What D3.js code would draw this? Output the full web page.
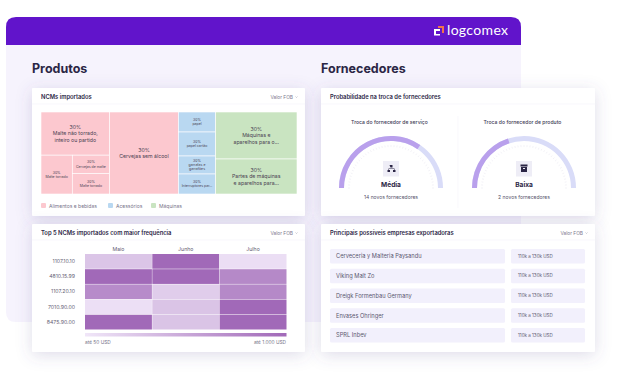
<!DOCTYPE html>
<html>
<head>
<meta charset="utf-8">
<script src="https://cdnjs.cloudflare.com/ajax/libs/d3/7.8.5/d3.min.js"></script>
<style>
html, body { margin: 0; padding: 0; background: #fff; }
svg { display: block; font-family: Inter, "Noto Sans", sans-serif; }
</style>
</head>
<body>
<div id="chart"></div>
<script>
// treemap
var groupNames = ["Alimentos e bebidas", "Acessórios", "Máquinas"];
var groupColors = ["#fcc8cf", "#b9d8f1", "#c9e4c1"];
var maltLabels = [["30%", "Malte não torrado,", "inteiro ou partido"], ["30%", "Malte torrado"], ["30%", "Cervejas de malte"], ["30%", "Malte torrado"]];
var maltValues = [2945, 1209, 685, 758];
var beerLabel = ["30%", "Cervejas sem álcool"];
var beerValue = 5617;
var accLabels = [["30%", "papel"], ["30%", "papel cartão"], ["30%", "garrafas e", "garrafões"], ["30%", "Interruptores par..."]];
var accValues = [740, 888, 666, 740];
var machLabels = [["30%", "Máquinas e", "aparelhos para o..."], ["30%", "Partes de máquinas", "e aparelhos para..."]];
var machValues = [3807, 2835];

// heatmap
var months = ["Maio", "Junho", "Julho"];
var ncms = ["1107.10.10", "4810.15.99", "1107.20.10", "7010.90.00", "8475.90.00"];
var heatValues = [
  [300, 1000, 110],
  [1000, 1000, 760],
  [740, 240, 760],
  [100, 310, 1000],
  [1000, 310, 1000]
];

// gauges
var gaugeTitles = ["Troca do fornecedor de serviço", "Troca do fornecedor de produto"];
var gaugeShares = [0.69, 0.40];
var gaugeLevels = ["Média", "Baixa"];
var gaugeNotes = ["14 novos fornecedores", "2 novos fornecedores"];

// exporters
var exporters = ["Cerveceria y Malteria Paysandu", "Viking Malt Zo", "Dreigk Formenbau Germany", "Envases Ohringer", "SPRL Inbev"];
var exporterRanges = ["110k a 130k USD", "110k a 130k USD", "110k a 130k USD", "110k a 130k USD", "110k a 130k USD"];

var ink = "#2b2645", grey = "#77748a";

var svg = d3.select("#chart").append("svg")
  .attr("width", 621).attr("height", 382);

var defs = svg.append("defs");
var shadow = defs.append("filter").attr("id", "shadow")
  .attr("x", "-20%").attr("y", "-30%").attr("width", "140%").attr("height", "170%");
shadow.append("feDropShadow")
  .attr("dx", 0).attr("dy", 3).attr("stdDeviation", 8)
  .attr("flood-color", "#5a5090").attr("flood-opacity", 0.2);

// app window
svg.append("path")
  .attr("d", "M6,45 V27 Q6,17 16,17 H511 Q521,17 521,27 V45 Z")
  .attr("fill", "#6114cb");
svg.append("path")
  .attr("d", "M6,45 H521 V312 Q521,322 511,322 H16 Q6,322 6,312 Z")
  .attr("fill", "#f6f3fd");

// logo
var logo = svg.append("g");
logo.append("path").attr("d", "M438,26 h6 v7 h-2 v-5 h-4 Z").attr("fill", "#f0734a");
logo.append("path").attr("d", "M434,29 h6 v2 h-4 v3 h4 v1.500 h-6 Z").attr("fill", "#fff");
logo.append("text").attr("x", 447).attr("y", 34.500)
  .attr("font-size", 14).attr("fill", "#fff").attr("font-family", "Lato")
  .attr("textLength", 61).text("logcomex");

svg.append("text").attr("x", 32).attr("y", 73).attr("font-size", 12.5)
  .attr("font-weight", 700).attr("fill", ink).text("Produtos");
svg.append("text").attr("x", 321).attr("y", 73).attr("font-size", 12.5)
  .attr("font-weight", 700).attr("fill", ink).text("Fornecedores");

function card(x, y, w, h, title, hasSelect) {
  svg.append("rect").attr("x", x).attr("y", y).attr("width", w).attr("height", h)
    .attr("rx", 1).attr("fill", "#fff").attr("filter", "url(#shadow)");
  svg.append("text").attr("x", x + 9).attr("y", y + 10.500)
    .attr("font-size", 5.8).attr("font-weight", 600).attr("fill", ink).text(title);
  svg.append("line").attr("x1", x).attr("x2", x + w).attr("y1", y + 16).attr("y2", y + 16)
    .attr("stroke", "#f5f4fa").attr("stroke-width", 0.7);
  if (hasSelect) {
    svg.append("text").attr("x", x + w - 12).attr("y", y + 10.500).attr("text-anchor", "end")
      .attr("font-size", 4.8).attr("fill", grey).text("Valor FOB");
    svg.append("path")
      .attr("d", "M" + (x + w - 9.500) + "," + (y + 8.500) + " l1,1 l1,-1")
      .attr("fill", "none").attr("stroke", "#9a98aa").attr("stroke-width", 0.5);
  }
}

card(32, 88, 273, 128, "NCMs importados", true);
card(32, 224, 273, 128, "Top 5 NCMs importados com maior frequência", true);
card(321, 88, 274, 128, "Probabilidade na troca de fornecedores", false);
card(321, 224, 274, 128, "Principais possíveis empresas exportadoras", true);

// treemap, slice and dice alternates columns and rows
function leaf(label, value, group) { return {label: label, value: value, group: group}; }
var treeData = {children: [
  {children: [
    leaf(maltLabels[0], maltValues[0], 0),
    {children: [
      leaf(maltLabels[1], maltValues[1], 0),
      {children: [leaf(maltLabels[2], maltValues[2], 0), leaf(maltLabels[3], maltValues[3], 0)]}
    ]}
  ]},
  leaf(beerLabel, beerValue, 0),
  {children: accLabels.map(function(l, i) { return leaf(l, accValues[i], 1); })},
  {children: machLabels.map(function(l, i) { return leaf(l, machValues[i], 2); })}
]};

var root = d3.hierarchy(treeData).sum(function(d) { return d.value || 0; });
d3.treemap().tile(d3.treemapSliceDice).size([256, 82])(root);

var tree = svg.append("g").attr("transform", "translate(41,112)");
var cell = tree.selectAll("g").data(root.leaves()).enter().append("g")
  .attr("transform", function(d) { return "translate(" + d.x0 + "," + d.y0 + ")"; });
cell.append("rect")
  .attr("width", function(d) { return d.x1 - d.x0; })
  .attr("height", function(d) { return d.y1 - d.y0; })
  .attr("fill", function(d) { return groupColors[d.data.group]; })
  .attr("stroke", "#fff").attr("stroke-width", 0.6);
cell.each(function(d) {
  var w = d.x1 - d.x0, h = d.y1 - d.y0;
  var fs = w * h > 2000 ? 5.2 : 3.5;
  var lh = fs * 1.22;
  var lines = d.data.label;
  d3.select(this).selectAll("text").data(lines).enter().append("text")
    .attr("x", w / 2)
    .attr("y", function(_, i) { return h / 2 + (i - (lines.length - 1) / 2) * lh + fs * 0.35; })
    .attr("text-anchor", "middle").attr("font-size", fs).attr("fill", "#4a4252")
    .text(function(t) { return t; });
});

var legendX = [41, 108, 151];
groupNames.forEach(function(name, i) {
  svg.append("rect").attr("x", legendX[i]).attr("y", 203).attr("width", 5).attr("height", 5)
    .attr("rx", 1).attr("fill", groupColors[i]);
  svg.append("text").attr("x", legendX[i] + 8).attr("y", 207.500)
    .attr("font-size", 5).attr("fill", grey).text(name);
});

// heatmap
var x = d3.scaleBand().domain(months).range([85, 286.500]).paddingInner(0.006);
var y = d3.scaleBand().domain(ncms).range([254, 329.500]).paddingInner(0.03);
var color = d3.scaleLinear().domain([50, 1000]).range(["#f0e6f8", "#a169b8"]);

ncms.forEach(function(n, r) {
  months.forEach(function(m, c) {
    svg.append("rect").attr("x", x(m)).attr("y", y(n))
      .attr("width", x.bandwidth()).attr("height", y.bandwidth())
      .attr("fill", color(heatValues[r][c]));
  });
});

var xAxis = svg.append("g").attr("transform", "translate(0,251)")
  .call(d3.axisTop(x).tickSize(0).tickPadding(0));
var yAxis = svg.append("g").attr("transform", "translate(75,0)")
  .call(d3.axisLeft(y).tickSize(0).tickPadding(0));
[xAxis, yAxis].forEach(function(a) {
  a.select(".domain").remove();
  a.selectAll("text").attr("font-size", 5.2).attr("fill", "#5f5c72").attr("font-family", "Inter");
});

var grad = defs.append("linearGradient").attr("id", "heatLegend");
color.domain().forEach(function(v, i) {
  grad.append("stop").attr("offset", i * 100 + "%").attr("stop-color", color(v));
});
svg.append("rect").attr("x", 85).attr("y", 333).attr("width", 201.500).attr("height", 3.500)
  .attr("fill", "url(#heatLegend)");
svg.append("text").attr("x", 85).attr("y", 344).attr("font-size", 4.8).attr("fill", grey).text("até 50 USD");
svg.append("text").attr("x", 286).attr("y", 344).attr("text-anchor", "end")
  .attr("font-size", 4.8).attr("fill", grey).text("até 1.000 USD");

// gauges
var gaugeX = [391, 524];
var angle = d3.scaleLinear().domain([0, 1]).range([-Math.PI / 2, Math.PI / 2]);
var arc = d3.arc().innerRadius(47).outerRadius(52);

svg.append("line").attr("x1", 458).attr("x2", 458).attr("y1", 116).attr("y2", 208)
  .attr("stroke", "#f6f5fa").attr("stroke-width", 0.7);

gaugeShares.forEach(function(share, i) {
  var g = svg.append("g").attr("transform", "translate(" + gaugeX[i] + ",188)");
  g.append("path").attr("fill", "#d9dcf8")
    .attr("d", arc({startAngle: angle(0), endAngle: angle(1)}));
  g.append("path").attr("fill", "#b9a0ec")
    .attr("d", arc({startAngle: angle(0), endAngle: angle(share)}));

  g.selectAll("line").data(d3.range(0, 1.001, 1 / 44)).enter().append("line")
    .attr("x1", function(d) { return 41 * Math.sin(angle(d)); })
    .attr("y1", function(d) { return -41 * Math.cos(angle(d)); })
    .attr("x2", function(d) { return 43 * Math.sin(angle(d)); })
    .attr("y2", function(d) { return -43 * Math.cos(angle(d)); })
    .attr("stroke", "#e6e4ee").attr("stroke-width", 0.5);

  g.append("rect").attr("x", -8).attr("y", -27).attr("width", 16).attr("height", 15.500)
    .attr("fill", "#eeedf6");
  if (i == 0) {
    g.append("path").attr("fill", ink)
      .attr("d", "M-1.500,-23 h3 v2.500 h-1 v1 h3 v1.500 h1 v2 h-2.500 v-2 h1 v-1 h-5 v1 h1 v2 h-2.500 v-2 h1 v-1.500 h3 v-1 h-1 Z");
  } else {
    g.append("path").attr("fill", ink).attr("fill-rule", "evenodd")
      .attr("d", "M-3.500,-23.500 h7 v2 h-7 Z M-3,-21 h6 v5 h-6 Z M-1,-20 v1 h2 v-1 Z");
  }
  g.append("text").attr("y", -1.500).attr("text-anchor", "middle")
    .attr("font-size", 6.6).attr("font-weight", 700).attr("fill", ink).text(gaugeLevels[i]);
  g.append("text").attr("y", 11).attr("text-anchor", "middle")
    .attr("font-size", 5).attr("fill", "#55526a").text(gaugeNotes[i]);
  g.append("text").attr("x", -1.500).attr("y", -64.500).attr("text-anchor", "middle")
    .attr("font-size", 5.1).attr("font-weight", 500).attr("fill", "#3d3955").text(gaugeTitles[i]);
});

// exporters
var rowY = d3.scaleBand().domain(exporters).range([249, 342.500]).paddingInner(0.27);
exporters.forEach(function(name, i) {
  svg.append("rect").attr("x", 330).attr("y", rowY(name)).attr("width", 175)
    .attr("height", rowY.bandwidth()).attr("rx", 1.500).attr("fill", "#f2f0fc");
  svg.append("rect").attr("x", 511).attr("y", rowY(name)).attr("width", 74)
    .attr("height", rowY.bandwidth()).attr("rx", 1.500).attr("fill", "#f2f0fc");
  svg.append("text").attr("x", 336).attr("y", rowY(name) + rowY.bandwidth() / 2 + 2)
    .attr("font-size", 5.7).attr("fill", "#5b5870").text(name);
  svg.append("text").attr("x", 518).attr("y", rowY(name) + rowY.bandwidth() / 2 + 1.300)
    .attr("font-size", 4.5).attr("fill", "#5b5870").text(exporterRanges[i]);
});
</script>
</body>
</html>
